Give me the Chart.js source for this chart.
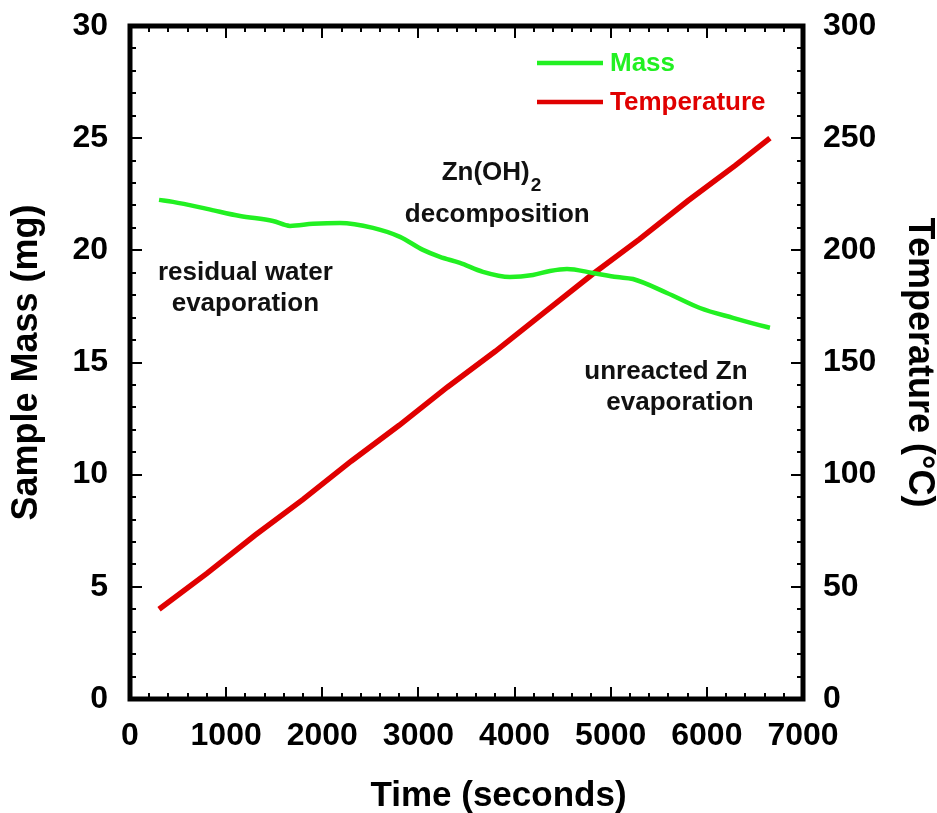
<!DOCTYPE html>
<html>
<head>
<meta charset="utf-8">
<title>Sample mass and temperature vs time</title>
<script src="https://cdn.jsdelivr.net/npm/chart.js@4.4.1/dist/chart.umd.min.js"></script>
<style>
  html, body { margin: 0; padding: 0; background: #ffffff; }
  #wrap { width: 937px; height: 813px; }
</style>
</head>
<body>
<div id="wrap"><canvas id="chart" width="937" height="813"></canvas></div>
<script>
// ---- data ----
const massTime = [302, 447, 801, 1144, 1487, 1664, 1903, 2184, 2527, 2808, 3047, 3224, 3432, 3671, 3952, 4191, 4368, 4545, 4815, 5065, 5231, 5585, 5928, 6271, 6625, 6656];
const massValues = [22.25, 22.16, 21.85, 21.53, 21.31, 21.09, 21.18, 21.22, 21.0, 20.6, 20.02, 19.71, 19.44, 19.04, 18.81, 18.9, 19.08, 19.17, 18.99, 18.81, 18.72, 18.1, 17.43, 16.99, 16.58, 16.55];

const tempTime = [302, 800, 1300, 1800, 2300, 2800, 3300, 3800, 4300, 4800, 5300, 5800, 6300, 6656];
const tempValues = [40, 56, 73, 89, 106, 122, 139, 155, 172, 189, 205, 222, 238, 250];

const timeTicks = { min: 0, max: 7000, step: 1000, minor: 200 };
const massTicks = { min: 0, max: 30, step: 5, minor: 1 };
const tempTicks = { min: 0, max: 300, step: 50, minor: 10 };

const seriesLabels = ['Mass', 'Temperature'];
const axisTitles = { x: 'Time (seconds)', y: 'Sample Mass (mg)', y1: 'Temperature (°C)' };

// text notes placed at (time, mass) positions
const notes = [
  { lines: ['residual water', 'evaporation'], t: 1200, m: 19.0 },
  { lines: ['decomposition'], t: 3820, m: 21.6 },
  { lines: ['unreacted Zn', 'evaporation'], t: 5720, m: 14.6, offsets: [-14, 0] }
];
const formula = { main: 'Zn(OH)', sub: '2', t: 3760, m: 23.45 };

// ---- styling ----
const FONT = '"Liberation Sans", Arial, Helvetica, sans-serif';
const GREEN = '#22f022';
const RED = '#e00000';

const toXY = (xs, ys) => xs.map((x, i) => ({ x: x, y: ys[i] }));

// Frame, inward tick marks, legend, notes and x title
const decorations = {
  id: 'decorations',
  afterDraw(chart) {
    const ctx = chart.ctx;
    const a = chart.chartArea;
    const sx = chart.scales.x, sy = chart.scales.y, sy1 = chart.scales.y1;
    ctx.save();

    // tick marks pointing into the plot
    ctx.strokeStyle = '#000';
    ctx.lineWidth = 2;
    const MAJ = 12, MIN = 6;
    const isMajor = (v, step) => Math.abs(v / step - Math.round(v / step)) < 1e-6;
    ctx.beginPath();
    for (let v = timeTicks.min; v <= timeTicks.max + 1e-6; v += timeTicks.minor) {
      const px = Math.round(sx.getPixelForValue(v));
      const len = isMajor(v, timeTicks.step) ? MAJ : MIN;
      ctx.moveTo(px, a.bottom); ctx.lineTo(px, a.bottom - len);
      ctx.moveTo(px, a.top); ctx.lineTo(px, a.top + len);
    }
    for (let v = massTicks.min; v <= massTicks.max + 1e-6; v += massTicks.minor) {
      const py = Math.round(sy.getPixelForValue(v));
      const len = isMajor(v, massTicks.step) ? MAJ : MIN;
      ctx.moveTo(a.left, py); ctx.lineTo(a.left + len, py);
    }
    for (let v = tempTicks.min; v <= tempTicks.max + 1e-6; v += tempTicks.minor) {
      const py = Math.round(sy1.getPixelForValue(v));
      const len = isMajor(v, tempTicks.step) ? MAJ : MIN;
      ctx.moveTo(a.right, py); ctx.lineTo(a.right - len, py);
    }
    ctx.stroke();

    // frame
    ctx.lineWidth = 5;
    ctx.strokeRect(a.left, a.top, a.right - a.left, a.bottom - a.top);

    // legend
    ctx.textAlign = 'left';
    ctx.textBaseline = 'middle';
    ctx.font = 'bold 26px ' + FONT;
    chart.data.datasets.forEach((ds, i) => {
      const y = a.top + 37 + i * 39;
      ctx.strokeStyle = ds.borderColor;
      ctx.lineWidth = 4.5;
      ctx.beginPath();
      ctx.moveTo(a.right - 266, y);
      ctx.lineTo(a.right - 200, y);
      ctx.stroke();
      ctx.fillStyle = ds.borderColor;
      ctx.fillText(ds.label, a.right - 193, y + 1);
    });

    // notes
    ctx.fillStyle = '#111';
    ctx.textAlign = 'center';
    ctx.font = 'bold 26px ' + FONT;
    notes.forEach(n => {
      const cx = sx.getPixelForValue(n.t);
      const cy = sy.getPixelForValue(n.m);
      n.lines.forEach((line, k) => {
        const dx = n.offsets ? n.offsets[k] : 0;
        ctx.fillText(line, cx + dx, cy + k * 31);
      });
    });

    // chemical formula with subscript
    ctx.font = 'bold 26px ' + FONT;
    const wMain = ctx.measureText(formula.main).width;
    ctx.font = 'bold 19px ' + FONT;
    const wSub = ctx.measureText(formula.sub).width;
    const fx = sx.getPixelForValue(formula.t) - (wMain + wSub + 1) / 2;
    const fy = sy.getPixelForValue(formula.m);
    ctx.textAlign = 'left';
    ctx.font = 'bold 26px ' + FONT;
    ctx.fillText(formula.main, fx, fy);
    ctx.font = 'bold 19px ' + FONT;
    ctx.fillText(formula.sub, fx + wMain + 1, fy + 13);

    // x axis title
    ctx.fillStyle = '#000';
    ctx.textAlign = 'center';
    ctx.font = 'bold 35px ' + FONT;
    ctx.fillText(axisTitles.x, (a.left + a.right) / 2 + 32, chart.height - 17);

    ctx.restore();
  }
};

const tickFont = { family: FONT, size: 32, weight: 'bold' };
const titleFont = { family: FONT, size: 36, weight: 'bold', lineHeight: 1 };
const plain = v => String(v);

// fixed scale boxes so the plot area sits where it should
const fixBox = (w, h) => s => {
  if (w !== null) s.width = w;
  if (h !== null) s.height = h;
  s.paddingTop = 0; s.paddingBottom = 0; s.paddingLeft = 0; s.paddingRight = 0;
};

new Chart(document.getElementById('chart'), {
  type: 'line',
  data: {
    datasets: [
      {
        label: seriesLabels[0],
        data: toXY(massTime, massValues),
        yAxisID: 'y',
        borderColor: GREEN,
        borderWidth: 4.5,
        pointRadius: 0,
        cubicInterpolationMode: 'monotone',
        fill: false
      },
      {
        label: seriesLabels[1],
        data: toXY(tempTime, tempValues),
        yAxisID: 'y1',
        borderColor: RED,
        borderWidth: 5.5,
        pointRadius: 0,
        tension: 0,
        fill: false
      }
    ]
  },
  options: {
    responsive: false,
    animation: false,
    layout: { padding: { top: 26, left: 0, right: 0, bottom: 0 } },
    plugins: { legend: { display: false }, tooltip: { enabled: false } },
    scales: {
      x: {
        type: 'linear',
        position: 'bottom',
        min: timeTicks.min, max: timeTicks.max,
        ticks: { stepSize: timeTicks.step, font: tickFont, color: '#000', padding: 18, maxRotation: 0, callback: plain },
        grid: { display: false, drawTicks: false },
        border: { display: false },
        title: { display: false, text: axisTitles.x },
        afterFit: fixBox(null, 114)
      },
      y: {
        type: 'linear',
        position: 'left',
        min: massTicks.min, max: massTicks.max,
        ticks: { stepSize: massTicks.step, font: tickFont, color: '#000', padding: 22, callback: plain },
        grid: { display: false, drawTicks: false },
        border: { display: false },
        title: { display: true, text: axisTitles.y, font: titleFont, color: '#000', padding: { top: 9, bottom: 0 } },
        afterFit: fixBox(130, null)
      },
      y1: {
        type: 'linear',
        position: 'right',
        min: tempTicks.min, max: tempTicks.max,
        ticks: { stepSize: tempTicks.step, font: tickFont, color: '#000', padding: 20, callback: plain },
        grid: { display: false, drawTicks: false },
        border: { display: false },
        title: { display: true, text: axisTitles.y1, font: titleFont, color: '#000', padding: { top: 0, bottom: 0 } },
        afterFit: fixBox(134, null)
      }
    }
  },
  plugins: [decorations]
});
</script>
</body>
</html>
